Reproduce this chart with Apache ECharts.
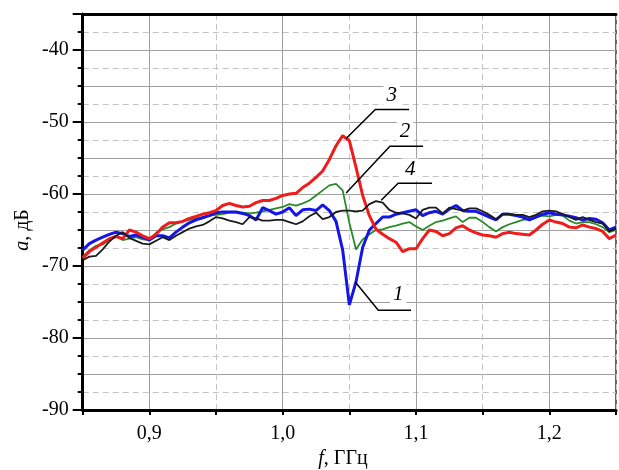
<!DOCTYPE html>
<html><head><meta charset="utf-8">
<script src="https://cdn.jsdelivr.net/npm/echarts@6/dist/echarts.min.js"></script>
<style>html,body{margin:0;padding:0;background:#fff}#c{width:619px;height:470px}</style>
</head><body><div id="c"></div>
<script>
// frequency, GHz
const freq = [0.85,0.855,0.86,0.865,0.87,0.875,0.88,0.885,0.89,0.895,
0.9,0.905,0.91,0.915,0.92,0.925,0.93,0.935,0.94,0.945,
0.95,0.955,0.96,0.965,0.97,0.975,0.98,0.985,0.99,0.995,
1.0,1.005,1.01,1.015,1.02,1.025,1.03,1.035,1.04,1.045,
1.05,1.055,1.06,1.065,1.07,1.075,1.08,1.085,1.09,1.095,
1.1,1.105,1.11,1.115,1.12,1.125,1.13,1.135,1.14,1.145,
1.15,1.155,1.16,1.165,1.17,1.175,1.18,1.185,1.19,1.195,
1.2,1.205,1.21,1.215,1.22,1.225,1.23,1.235,1.24,1.245,1.25];

// curve 3 (red)
const curve3 = [-68.9,-68.0,-67.4,-66.8,-66.2,-65.9,-66.2,-65.0,-65.3,-65.8,
-66.2,-65.6,-64.6,-64.0,-64.0,-63.8,-63.4,-63.1,-62.8,-62.6,
-62.3,-61.6,-61.3,-61.6,-61.8,-61.7,-61.2,-60.9,-60.9,-60.6,
-60.2,-60.0,-59.9,-59.1,-58.5,-57.7,-56.8,-55.2,-53.3,-51.9,
-52.6,-56.3,-60.2,-63.0,-64.9,-65.6,-66.2,-66.7,-68.0,-67.6,
-67.6,-66.2,-65.0,-65.2,-65.8,-65.5,-64.7,-64.4,-65.0,-65.4,
-65.7,-65.8,-66.0,-65.5,-65.3,-65.5,-65.6,-65.7,-65.0,-64.2,
-63.6,-63.9,-64.1,-64.6,-64.7,-64.3,-64.6,-64.8,-65.2,-66.2,-65.7];

// curve 1 (blue)
const curve1 = [-67.8,-66.9,-66.4,-66.0,-65.6,-65.3,-65.5,-65.9,-65.7,-66.0,
-66.4,-65.8,-65.8,-66.1,-65.3,-64.6,-64.0,-63.6,-63.3,-63.0,
-62.6,-62.5,-62.5,-62.5,-62.7,-63.0,-63.6,-61.9,-62.3,-62.8,
-62.5,-61.9,-63.0,-62.2,-62.1,-62.3,-61.5,-62.3,-63.8,-67.8,
-75.4,-72.2,-67.4,-65.0,-64.1,-63.2,-63.2,-62.8,-62.6,-62.4,
-62.2,-63.0,-62.6,-62.4,-62.8,-62.1,-61.6,-62.3,-62.4,-62.4,
-62.8,-63.2,-63.6,-62.8,-62.8,-63.0,-63.2,-63.6,-63.2,-62.8,
-62.6,-62.8,-62.9,-63.1,-63.3,-63.6,-63.4,-63.5,-64.0,-65.0,-64.6];

// curve 2 (green)
const curve2 = [-68.7,-67.8,-67.2,-67.0,-66.4,-65.9,-66.4,-66.2,-66.0,-66.3,
-66.4,-65.4,-64.9,-64.6,-64.1,-63.8,-63.6,-63.4,-63.2,-63.0,
-62.9,-62.8,-62.6,-62.6,-62.6,-62.7,-62.6,-62.4,-62.2,-62.0,
-61.8,-61.4,-61.6,-61.3,-60.9,-60.2,-59.5,-58.8,-58.6,-59.5,
-64.0,-67.7,-66.3,-65.6,-65.0,-64.9,-64.6,-64.4,-64.1,-63.9,
-64.5,-65.0,-64.4,-63.9,-63.7,-63.4,-63.1,-63.9,-63.3,-63.3,
-63.9,-64.6,-65.2,-64.6,-64.2,-63.9,-63.6,-63.5,-63.2,-63.0,
-63.1,-62.9,-63.0,-63.7,-64.1,-63.9,-63.9,-64.2,-64.6,-65.3,-65.0];

// curve 4 (black)
const curve4 = [-69.2,-68.7,-68.6,-67.7,-66.6,-65.8,-65.3,-66.1,-66.5,-66.9,
-67.0,-66.5,-66.0,-66.4,-65.8,-65.3,-64.8,-64.5,-64.3,-63.8,
-63.2,-63.4,-63.7,-63.9,-64.2,-63.2,-63.4,-63.7,-63.7,-63.6,
-63.6,-63.9,-64.2,-63.8,-63.1,-62.6,-63.5,-63.2,-62.5,-62.3,
-62.3,-62.4,-62.3,-61.4,-61.0,-61.2,-62.2,-62.6,-62.7,-62.9,
-63.4,-62.2,-61.9,-61.9,-62.7,-61.9,-62.1,-62.3,-62.0,-62.0,
-62.4,-62.9,-63.5,-62.8,-62.8,-62.9,-62.9,-63.2,-62.9,-62.4,
-62.3,-62.4,-62.8,-63.2,-63.6,-63.2,-63.6,-63.9,-64.1,-65.2,-64.8];

// curve labels with leader lines (data coordinates)
const labelTexts = ['3','2','4','1'];
const labelAt = [[1.0818,-46.3],[1.0918,-51.3],[1.0956,-56.65],[1.0866,-74.0]];
const leaders = [
  [[1.0476,-52.3],[1.0695,-48.25],[1.0948,-48.25]],
  [[1.0476,-59.86],[1.0804,-53.38],[1.1053,-53.38]],
  [[1.0739,-60.87],[1.0866,-58.52],[1.112,-58.52]],
  [[1.0543,-72.2],[1.0717,-76.13],[1.0963,-76.13]]
];

const serif = '"Liberation Serif", "Times New Roman", serif';
const pair = arr => freq.map((f, i) => [f, arr[i]]);
const fmtX = v => { const r = Math.round(v * 100); return r % 10 === 0 ? (r / 100).toFixed(1).replace('.', ',') : ''; };
const fmtY = v => (Math.round(v) % 10 === 0 ? String(Math.round(v)) : '');

const chart = echarts.init(document.getElementById('c'), null, {renderer: 'canvas'});
const option = {
  animation: false,
  backgroundColor: '#fff',
  grid: {left: 82.7, top: 14, right: 2.5, bottom: 60, show: true, borderColor: '#333', borderWidth: 1.5, backgroundColor: 'transparent'},
  xAxis: [
    {type: 'value', min: 0.85, max: 1.25, interval: 0.05, position: 'bottom',
     axisLine: {show: true, onZero: false, lineStyle: {color: '#000', width: 3}},
     axisTick: {show: true, inside: false, length: 5, lineStyle: {color: '#000', width: 2}},
     axisLabel: {margin: 14, color: '#000', fontFamily: serif, fontSize: 20, formatter: fmtX, hideOverlap: false},
     splitLine: {show: true, lineStyle: {color: ['rgba(0,0,0,0)', '#a0a0a0'], width: 1, type: 'solid'}}},
    {type: 'value', min: 0.85, max: 1.25, interval: 0.05, position: 'bottom',
     axisLine: {show: false}, axisTick: {show: false}, axisLabel: {show: false},
     splitLine: {show: true, lineStyle: {color: ['#c4c4c4', 'rgba(0,0,0,0)'], width: 1, type: [6, 4]}}},
    {type: 'value', min: 0.85, max: 1.25, position: 'top',
     axisLine: {show: true, onZero: false, lineStyle: {color: '#000', width: 3}},
     axisTick: {show: false}, axisLabel: {show: false}, splitLine: {show: false}}
  ],
  yAxis: [
    {type: 'value', min: -90, max: -35, interval: 5, position: 'left',
     axisLine: {show: true, onZero: false, lineStyle: {color: '#000', width: 3}},
     axisTick: {show: true, inside: false, length: 5, lineStyle: {color: '#000', width: 2}},
     minorTick: {show: true, splitNumber: 2, length: 5, lineStyle: {color: '#000', width: 2}},
     axisLabel: {margin: 14, color: '#000', fontFamily: serif, fontSize: 20, formatter: fmtY},
     splitLine: {show: true, lineStyle: {color: '#a0a0a0', width: 1}},
     minorSplitLine: {show: true, lineStyle: {color: '#c4c4c4', width: 1, type: [6, 4]}}},
    {type: 'value', min: -90, max: -35, interval: 10, position: 'left',
     axisLine: {show: false},
     axisTick: {show: true, inside: false, length: 10, lineStyle: {color: '#000', width: 2}},
     axisLabel: {show: false}, splitLine: {show: false}}
  ],
  series: [
    {name: '2', type: 'line', data: pair(curve2), showSymbol: false, lineStyle: {color: '#2a8a2a', width: 1.8}, z: 2},
    {name: '1', type: 'line', data: pair(curve1), showSymbol: false, lineStyle: {color: '#1515e6', width: 3}, z: 3},
    {name: '3', type: 'line', data: pair(curve3), showSymbol: false, lineStyle: {color: '#f01c1c', width: 3}, z: 4},
    {name: '4', type: 'line', data: pair(curve4), showSymbol: false, lineStyle: {color: '#1a1a1a', width: 1.8}, z: 5}
  ]
};
chart.setOption(option);

const toPx = p => chart.convertToPixel({xAxisIndex: 0, yAxisIndex: 0}, p);
const g = [];
leaders.forEach((pts, i) => {
  g.push({type: 'polyline', shape: {points: pts.map(toPx)}, style: {stroke: '#000', lineWidth: 1.5, fill: 'none'}, z: 100});
  const c = toPx(labelAt[i]);
  g.push({type: 'text', x: c[0], y: c[1], z: 101,
    style: {text: labelTexts[i], font: 'italic 21px "Liberation Serif"', fill: '#000', align: 'center', verticalAlign: 'middle', backgroundColor: '#fff', padding: [1, 3]}});
});
g.push({type: 'text', x: 23, y: 230, rotation: Math.PI / 2, z: 101,
  style: {text: '{i|a}, дБ', font: '20px "Liberation Serif"', fill: '#000', align: 'center', verticalAlign: 'middle',
    rich: {i: {fontStyle: 'italic', fontFamily: 'Liberation Serif', fontSize: 20, fill: '#000'}}}});
g.push({type: 'text', x: 343, y: 459, z: 101,
  style: {text: '{i|f}, ГГц', font: '20px "Liberation Serif"', fill: '#000', align: 'center', verticalAlign: 'middle',
    rich: {i: {fontStyle: 'italic', fontFamily: 'Liberation Serif', fontSize: 20, fill: '#000'}}}});
chart.setOption({graphic: g});
</script>
</body></html>
